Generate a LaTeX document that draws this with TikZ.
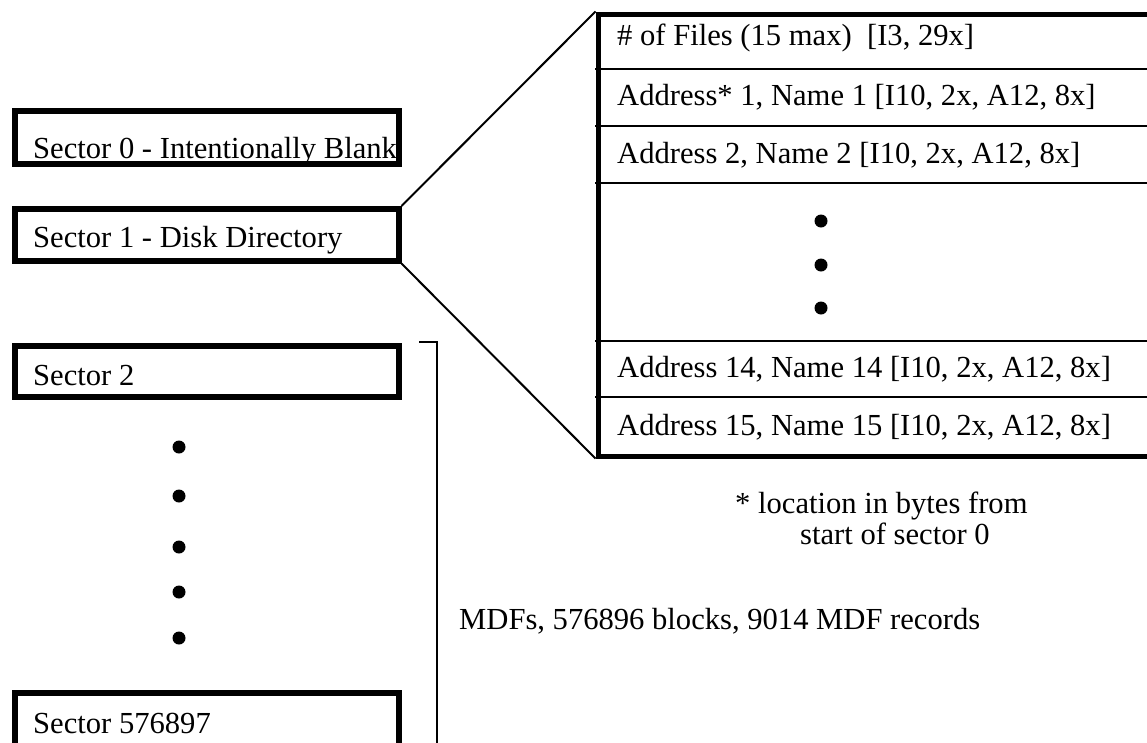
\documentclass[tikz,border=0pt]{standalone}
\usepackage{fontspec}
\setmainfont{Liberation Serif}
\begin{document}
\begin{tikzpicture}[x=1pt,y=-1pt,
  txt/.style={inner sep=0pt,anchor=base west,font=\fontsize{30.6}{36}\selectfont},
  sbox/.style={draw,line width=5.5pt,anchor=north west,inner sep=0pt,minimum width=384pt},
  thin/.style={line width=2pt},
  dot/.style={circle,fill,inner sep=0pt,minimum size=13pt}]
\useasboundingbox (0,0) rectangle (1147,742);
\clip (0,0) rectangle (1147,742);
% left sector boxes
\node[sbox,minimum height=53pt] (s0) at (12,108) {};
\node[sbox,minimum height=52pt] (s1) at (12,206) {};
\node[sbox,minimum height=51pt] (s2) at (12,343) {};
\node[sbox,minimum height=80pt] (s3) at (12,690) {};
\node[txt] (t0) at (33,158) {Sector 0 - Intentionally Blank};
\node[txt] (t1) at (33,247) {Sector 1 - Disk Directory};
\node[txt] (t2) at (33,385) {Sector 2};
\node[txt] (t3) at (33,733) {Sector 576897};
% left dots
\node[dot] (ld1) at (179,447) {};
\node[dot] (ld2) at (179,496) {};
\node[dot] (ld3) at (179,547) {};
\node[dot] (ld4) at (179,592) {};
\node[dot] (ld5) at (179,638) {};
% bracket
\coordinate (bA) at (419,342);
\coordinate (bB) at (437,342);
\coordinate (bC) at (437,760);
\draw[thin] (bA) -- (bB) -- (bC);
\node[txt] (mdf) at (459,629) {MDFs, 576896 blocks, 9014 MDF records};
% directory table
\node[draw,line width=5pt,anchor=north west,inner sep=0pt,minimum width=620pt,minimum height=442pt] (tbl) at (595.5,11.5) {};
\coordinate (r1w) at (595,69);  \coordinate (r1e) at (1200,69);
\coordinate (r2w) at (595,126); \coordinate (r2e) at (1200,126);
\coordinate (r3w) at (595,183); \coordinate (r3e) at (1200,183);
\coordinate (r4w) at (595,341); \coordinate (r4e) at (1200,341);
\coordinate (r5w) at (595,397); \coordinate (r5e) at (1200,397);
\draw[thin] (r1w) -- (r1e) (r2w) -- (r2e) (r3w) -- (r3e) (r4w) -- (r4e) (r5w) -- (r5e);
\node[txt] (f0) at (617,45) {\#\ of Files (15 max)\ \ [I3, 29x]};
\node[txt] (f1) at (617,105) {Address* 1, Name 1 [I10, 2x, A12, 8x]};
\node[txt] (f2) at (617,163) {Address 2, Name 2 [I10, 2x, A12, 8x]};
\node[txt] (f14) at (617,377) {Address 14, Name 14 [I10, 2x, A12, 8x]};
\node[txt] (f15) at (617,435) {Address 15, Name 15 [I10, 2x, A12, 8x]};
\node[dot] (rd1) at (821,221) {};
\node[dot] (rd2) at (821,265) {};
\node[dot] (rd3) at (821,308) {};
% expansion lines
\draw[thin] (s1.north east) -- (tbl.north west);
\draw[thin] (s1.south east) -- (tbl.south west);
% footnote
\node[txt] (fn1) at (735,513) {* location in bytes from};
\node[txt] (fn2) at (800,544) {start of sector 0};
\end{tikzpicture}
\end{document}
